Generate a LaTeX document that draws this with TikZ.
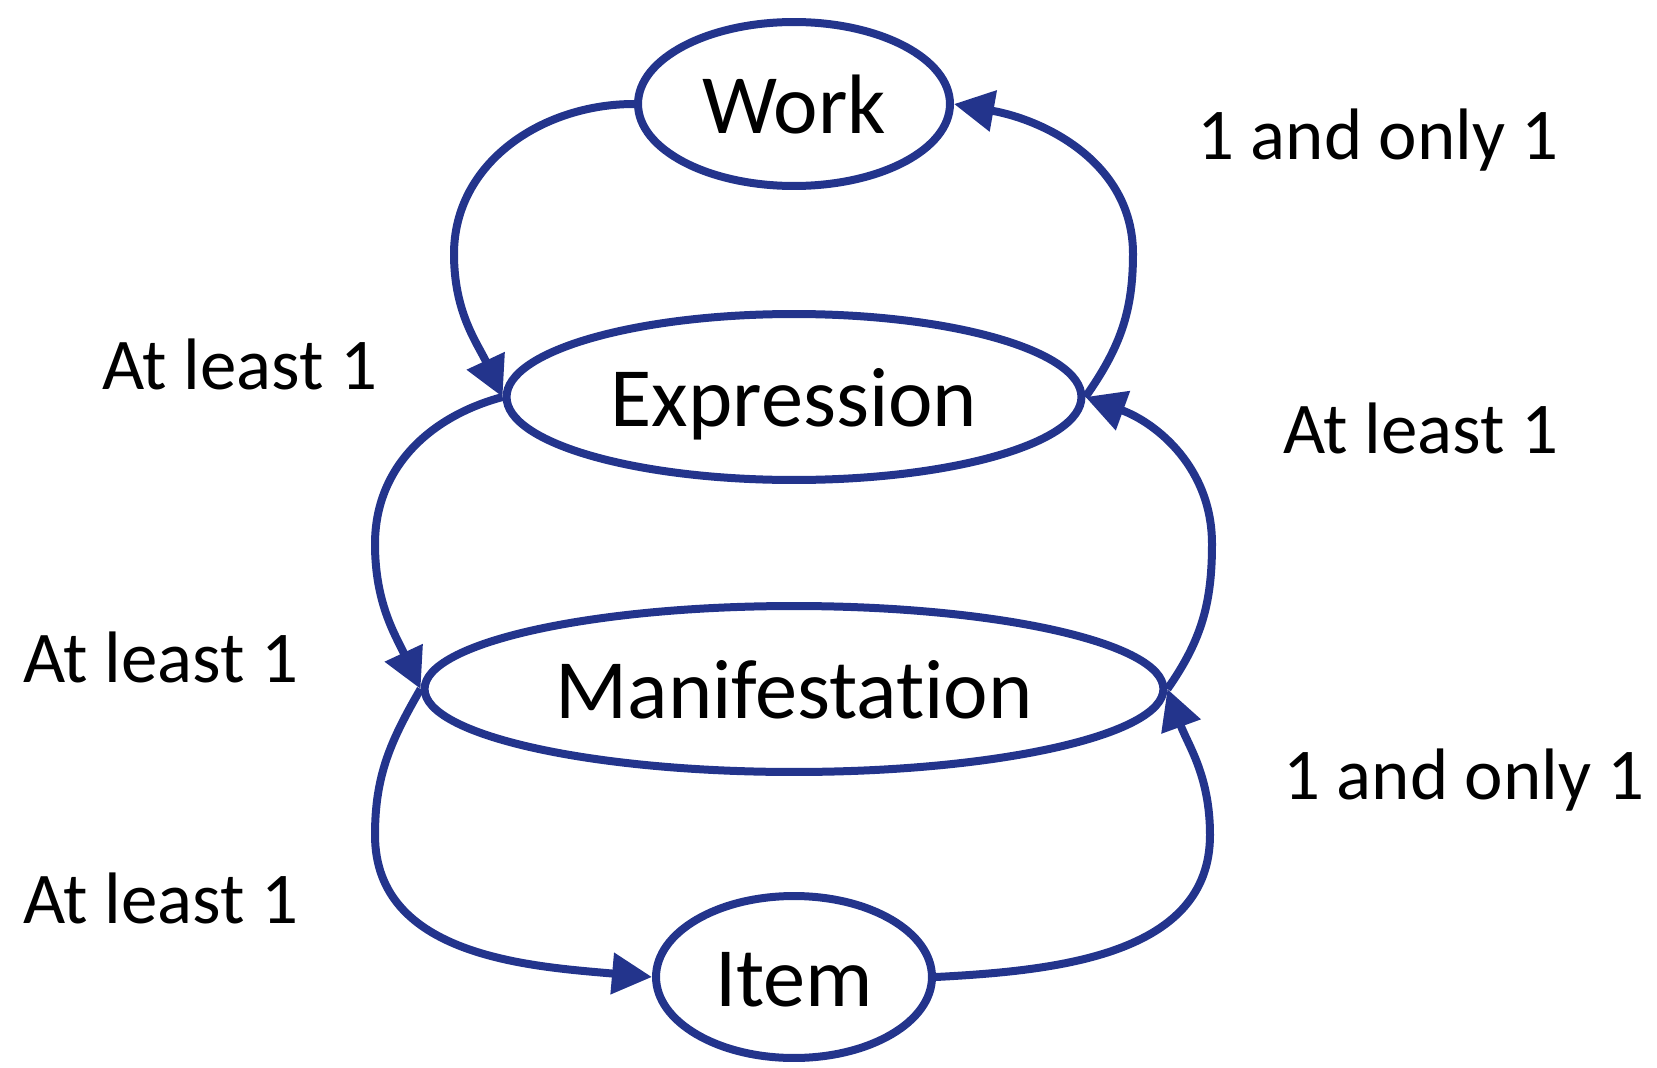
\documentclass[tikz,border=0pt]{standalone}
\usepackage{fontspec}
\setmainfont[Ligatures={NoCommon}]{Carlito}
\usetikzlibrary{positioning,arrows.meta,shapes.geometric}
\definecolor{frbrblue}{RGB}{35,52,140}

\begin{document}
\begin{tikzpicture}[x=0.02cm,y=0.02cm,>={Triangle[length=0.8cm,width=0.8cm]},
                entity/.style={ellipse,draw=frbrblue,line width=0.16cm,inner sep=0pt,
                  text height=34pt,text depth=0pt,font=\fontsize{48}{58}\selectfont},
                link/.style={->,draw=frbrblue,line width=0.16cm},
                card/.style={anchor=base west,inner sep=0pt,font=\fontsize{41.5}{50}\selectfont}]
\useasboundingbox (0,0) rectangle (1657,-1068);
%Nodes
    \node[entity,minimum width=6.24cm,minimum height=3.28cm] (work) at (794,-104) {Work};
    \node[entity,minimum width=11.5cm,minimum height=3.32cm] (expr) at (794,-397) {Expression};
    \node[entity,minimum width=14.78cm,minimum height=3.32cm] (manif) at (794,-689) {Manifestation};
    \node[entity,minimum width=5.52cm,minimum height=3.24cm] (item) at (794,-977) {Item};
%Cardinalities
    \node[card] (c1) at (1197,-159) {1 and only 1};
    \node[card] (c2) at (102,-389) {At least 1};
    \node[card] (c3) at (1283,-453) {At least 1};
    \node[card] (c4) at (23,-682) {At least 1};
    \node[card] (c5) at (1283,-799) {1 and only 1};
    \node[card] (c6) at (23,-923) {At least 1};
%Links
    \draw[link] (work.west) to[out=180,in=90] (454,-254) to[out=-90,in=115] (expr.west);
    \draw[link] (expr.east) to[out=55,in=-90] (1133,-254) to[out=90,in=-10] (work.east);
    \draw[link] (expr.west) to[out=195,in=90] (375,-544) to[out=-90,in=115] (manif.west);
    \draw[link] (manif.east) to[out=55,in=-90] (1212,-544) to[out=90,in=-20] (expr.east);
    \draw[link] (manif.west) to[out=240,in=90] (375,-835) to[out=-90,in=175] (item.west);
    \draw[link] (item.east) to[out=3,in=-90] (1210,-835) to[out=90,in=-70] (manif.east);
\end{tikzpicture}
\end{document}
